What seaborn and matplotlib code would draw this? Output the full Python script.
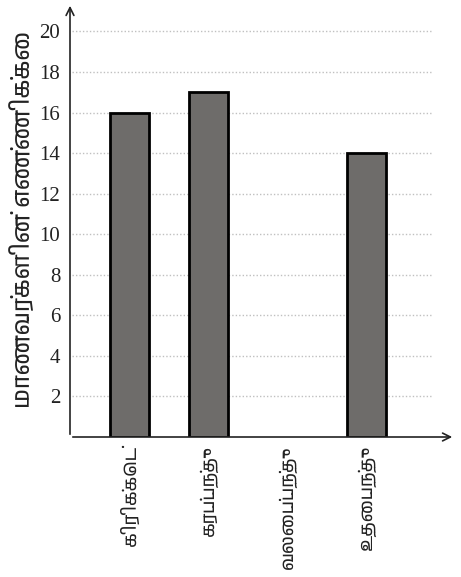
import matplotlib
matplotlib.use("Agg")
import matplotlib.pyplot as plt
from matplotlib import font_manager
import seaborn as sns
import pandas as pd
import numpy as np

# data (வலைப்பந்து bar is left blank in the original)
sports = ["கிரிக்கெட்", "கரப்பந்து", "வலைப்பந்து", "உதைபந்து"]
students = [16, 17, np.nan, 14]
y_ticks = [2, 4, 6, 8, 10, 12, 14, 16, 18, 20]
y_title = "மாணவர்களின் எண்ணிக்கை"

sns.set_style("white")

# look for any installed font that has Tamil glyphs
tamil = [f.name for f in font_manager.fontManager.ttflist if "tamil" in f.name.lower() or "lohit" in f.name.lower()]
tfam = sorted(set(tamil))[:1] + ["Noto Sans", "DejaVu Sans"]

df = pd.DataFrame({"sport": sports, "students": students})

fig = plt.figure(figsize=(4.61, 5.77), dpi=100)
ax = fig.add_axes([70 / 461, 140 / 577, 385 / 461, 434 / 577])

sns.barplot(data=df, x="sport", y="students", order=sports, color="#6e6c6a",
            saturation=1, width=0.5, edgecolor="black", linewidth=2, ax=ax, zorder=3)

ax.set_xlim(-0.75, 4.12)
ax.set_ylim(0, 21.4)

# dotted gridlines that stop short of the arrow
for t in y_ticks:
    ax.hlines(t, -0.72, 3.82, colors="#c0c0c0", linestyles=(0, (1, 1.5)), linewidth=1, zorder=1)

for s in ["top", "right", "left", "bottom"]:
    ax.spines[s].set_visible(False)
ax.annotate("", xy=(0, 1), xytext=(0, 0), xycoords="axes fraction",
            arrowprops=dict(arrowstyle="->", lw=1.2, color="#222222", mutation_scale=14))
ax.annotate("", xy=(1, 0), xytext=(0, 0), xycoords="axes fraction",
            arrowprops=dict(arrowstyle="->", lw=1.2, color="#222222", mutation_scale=14))

ax.set_yticks(y_ticks)
ax.set_yticklabels([str(t) for t in y_ticks], family="Liberation Serif", fontsize=15, color="#222222")
ax.tick_params(axis="y", length=0, pad=7)
ax.tick_params(axis="x", length=0, pad=6)
ax.set_xticks(range(len(sports)))
ax.set_xticklabels(sports, rotation=90, family=tfam, fontsize=13, color="#222222", va="top")

ax.set_xlabel("")
ax.set_ylabel(y_title, family=tfam, fontsize=17, color="#222222", labelpad=4)

fig.savefig("out.png", dpi=100)
